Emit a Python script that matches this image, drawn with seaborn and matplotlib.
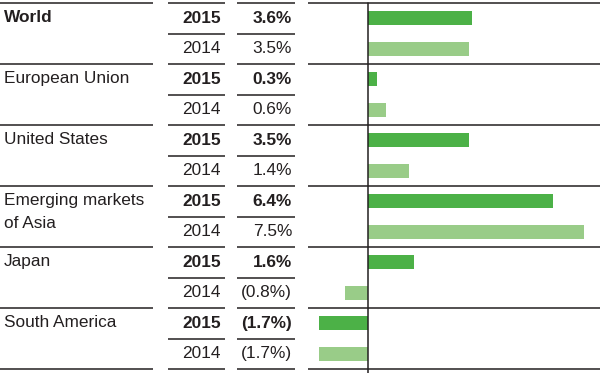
import pandas as pd
import seaborn as sns
import matplotlib
matplotlib.use("Agg")
from matplotlib import pyplot as plt
from matplotlib.transforms import blended_transform_factory

regions = ["World", "European Union", "United States",
           "Emerging markets\nof Asia", "Japan", "South America"]
years = ["2015", "2014"]
growth_2015 = [3.6, 0.3, 3.5, 6.4, 1.6, -1.7]
growth_2014 = [3.5, 0.6, 1.4, 7.5, -0.8, -1.7]

DARK = "#4cb147"
LIGHT = "#99cc88"
INK = "#231f20"

rows = []
for i, region in enumerate(regions):
    rows.append({"row": f"{i}-2015", "region": region, "year": "2015", "growth": growth_2015[i]})
    rows.append({"row": f"{i}-2014", "region": region, "year": "2014", "growth": growth_2014[i]})
df = pd.DataFrame(rows)

sns.set_style("white")
plt.rcParams["font.family"] = ["Liberation Sans", "DejaVu Sans"]

W, H = 600, 373
fig = plt.figure(figsize=(6, 3.73), dpi=100)
ax = fig.add_axes([308 / W, 1 - 369 / H, 1 - 308 / W, (369 - 3) / H])

sns.barplot(data=df, x="growth", y="row", hue="year", order=df["row"],
            palette={"2015": DARK, "2014": LIGHT}, dodge=False, width=0.47,
            orient="h", saturation=1, legend=False, linewidth=0, ax=ax)

ax.set_xlim(-(368.3 - 308) / 28.8, (600 - 368.3) / 28.8)
ax.set_ylim(len(df) - 0.5, -0.5)
ax.axvline(0, color=INK, lw=1.1, ymin=-0.02, ymax=1, clip_on=False)
ax.set_xticks([])
ax.set_yticks([])
ax.set_xlabel("")
ax.set_ylabel("")
for side in ["top", "right", "bottom", "left"]:
    ax.spines[side].set_visible(False)

# table part lives to the left of the bar axes, in figure pixels on x
trans = blended_transform_factory(fig.transFigure, ax.transData)
px = lambda v: v / W


def fmt(v):
    return f"({abs(v):.1f}%)" if v < 0 else f"{v:.1f}%"


text_kw = dict(transform=trans, color=INK, fontsize=12.4, va="center", clip_on=False)
for i, region in enumerate(regions):
    r15, r14 = 2 * i, 2 * i + 1
    ax.text(px(4), r15 - 0.04, region.split("\n")[0], ha="left",
            fontweight="bold" if region == "World" else "normal", **text_kw)
    if "\n" in region:
        ax.text(px(4), r14 - 0.26, region.split("\n")[1], ha="left", **text_kw)
    ax.text(px(221), r15, years[0], ha="right", fontweight="bold", **text_kw)
    ax.text(px(221), r14, years[1], ha="right", **text_kw)
    ax.text(px(292), r15, fmt(growth_2015[i]), ha="right", fontweight="bold", **text_kw)
    ax.text(px(292), r14, fmt(growth_2014[i]), ha="right", **text_kw)

line_kw = dict(transform=trans, color=INK, lw=1.1, clip_on=False, solid_capstyle="butt")
all_cols = [(0, 153), (168, 225), (237, 295), (308, 600)]
num_cols = [(168, 225), (237, 295)]
for k in range(len(regions) + 1):
    yb = 2 * k - 0.5
    for a, b in all_cols:
        ax.plot([px(a), px(b)], [yb, yb], **line_kw)
    if k < len(regions):
        for a, b in num_cols:
            ax.plot([px(a), px(b)], [yb + 1, yb + 1], **line_kw)

fig.savefig("out.png", dpi=100)
